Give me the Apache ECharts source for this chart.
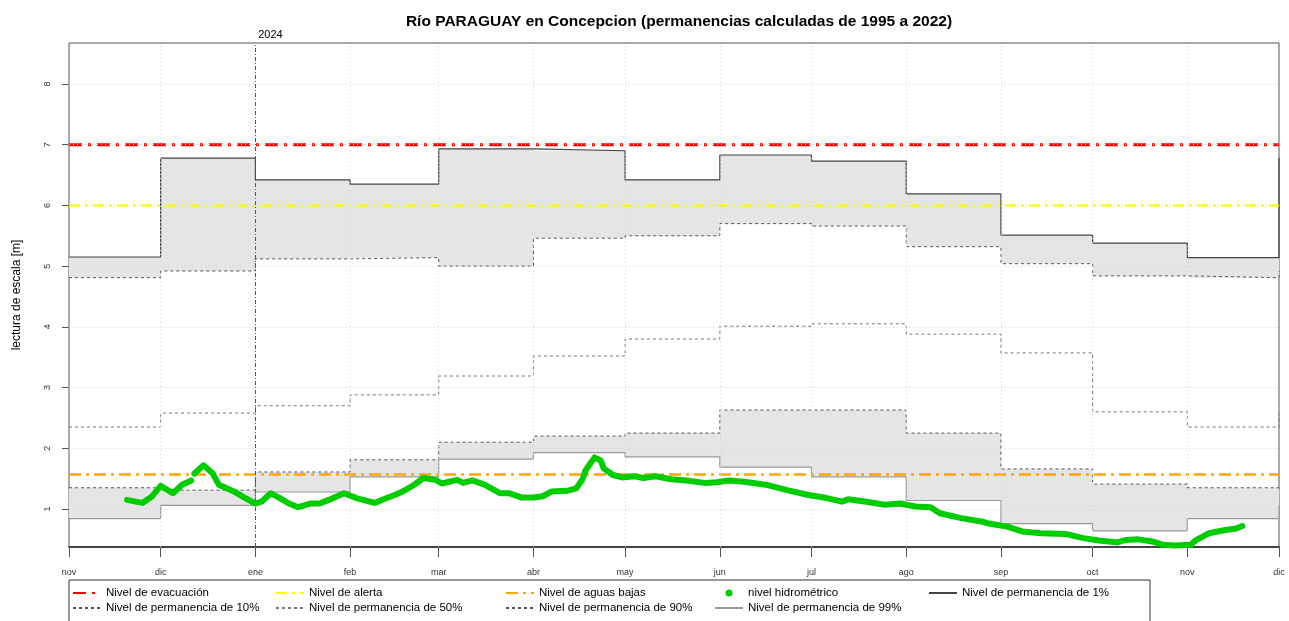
<!DOCTYPE html>
<html>
<head>
<meta charset="utf-8">
<script src="https://cdn.jsdelivr.net/npm/echarts@6/dist/echarts.min.js"></script>
<style>
  html, body { margin: 0; padding: 0; background: #fff; }
  #chart { width: 1289px; height: 621px; }
</style>
</head>
<body>
<div id="chart"></div>
<script>
// eje x: dias desde 1 nov 2023
var monthStarts = [0, 30, 61, 92, 121, 152, 182, 213, 243, 274, 305, 335, 366, 396];
var monthLabels = ['nov', 'dic', 'ene', 'feb', 'mar', 'abr', 'may', 'jun', 'jul', 'ago', 'sep', 'oct', 'nov', 'dic'];
var yTicks = [1, 2, 3, 4, 5, 6, 7, 8];
var yearStart = 61; // 1 ene 2024

// permanencias mensuales (m)
var perm1  = [5.15, 6.78, 6.42, 6.35, 6.93, 6.90, 6.42, 6.83, 6.73, 6.19, 5.51, 5.38, 5.14, 6.78];
var perm10 = [4.81, 4.92, 5.12, 5.14, 5.00, 5.46, 5.50, 5.70, 5.66, 5.32, 5.04, 4.84, 4.81, 4.92];
var perm50 = [2.35, 2.58, 2.70, 2.88, 3.19, 3.52, 3.80, 4.01, 4.05, 3.88, 3.57, 2.60, 2.35, 2.58];
var perm90 = [1.35, 1.31, 1.61, 1.81, 2.10, 2.20, 2.25, 2.63, 2.63, 2.25, 1.66, 1.41, 1.35, 1.31];
var perm99 = [0.84, 1.06, 1.28, 1.53, 1.82, 1.93, 1.86, 1.69, 1.53, 1.14, 0.76, 0.64, 0.84, 1.06];

// niveles de referencia
var nivelEvacuacion = 7;
var nivelAlerta = 6;
var nivelAguasBajas = 1.57;

// nivel hidrometrico observado
var obsDay = [19, 21, 24, 27, 30, 34, 37, 40, 40.5, 41, 44, 47, 49, 54, 57, 61, 63, 66, 69, 72, 75, 79, 82, 85, 90, 94, 100, 104, 107, 110, 113, 116,
  120, 122, 127, 129, 132, 136, 141, 144, 148, 152, 155, 158, 163, 166, 168, 169, 171, 172, 174, 175, 178, 181, 185, 188, 192, 197, 202, 208,
  212, 216, 221, 228, 235, 242, 248, 253, 255, 261, 267, 272, 277, 282, 285, 292, 299, 301, 307, 312, 318, 326, 332, 337, 343, 346, 350, 355,
  358, 362, 367, 369, 373, 378, 382, 384];
var obsLevel = [1.15, 1.13, 1.10, 1.20, 1.38, 1.26, 1.40, 1.47, null, 1.58, 1.72, 1.59, 1.40, 1.29, 1.20, 1.09, 1.12, 1.26, 1.18, 1.09, 1.03, 1.09, 1.09, 1.15, 1.26, 1.18, 1.10, 1.18, 1.24, 1.31, 1.40, 1.51,
  1.48, 1.42, 1.48, 1.43, 1.47, 1.40, 1.26, 1.26, 1.19, 1.19, 1.21, 1.29, 1.30, 1.34, 1.48, 1.63, 1.78, 1.85, 1.80, 1.67, 1.56, 1.52, 1.54, 1.51, 1.54, 1.49, 1.47, 1.43,
  1.44, 1.47, 1.45, 1.40, 1.31, 1.23, 1.18, 1.12, 1.16, 1.12, 1.07, 1.09, 1.04, 1.03, 0.93, 0.85, 0.79, 0.76, 0.71, 0.63, 0.60, 0.59, 0.52, 0.48, 0.45, 0.49, 0.50, 0.46,
  0.41, 0.40, 0.41, 0.49, 0.60, 0.65, 0.68, 0.72];

var legendCols = [
  ['Nivel de evacuación', 'Nivel de permanencia de 10%'],
  ['Nivel de alerta', 'Nivel de permanencia de 50%'],
  ['Nivel de aguas bajas', 'Nivel de permanencia de 90%'],
  ['nivel hidrométrico', 'Nivel de permanencia de 99%'],
  ['Nivel de permanencia de 1%']
];
var legendLefts = [72, 275, 505, 714, 928];

var fontFam = '"Liberation Sans", Arial, Helvetica, sans-serif';
var xMin = monthStarts[0], xMax = monthStarts[monthStarts.length - 1];

function steps (vals) {
  return monthStarts.map(function (d, i) { return [d, vals[i]]; });
}
function flat (v) {
  return [[xMin, v], [xMax, v]];
}
// bandas mensuales [inicio, fin, bajo, alto]
function band (low, high) {
  var out = [];
  for (var i = 0; i < monthStarts.length - 1; i++) {
    out.push([monthStarts[i], monthStarts[i + 1], low[i], high[i]]);
  }
  return out;
}
function renderBand (params, api) {
  var a = api.coord([api.value(0), api.value(3)]);
  var b = api.coord([api.value(1), api.value(2)]);
  return {
    type: 'rect',
    shape: { x: a[0], y: a[1], width: b[0] - a[0], height: b[1] - a[1] },
    style: { fill: '#e5e5e5' }
  };
}

var gridLines = [];
monthStarts.slice(1, -1).forEach(function (d) {
  if (d !== yearStart) gridLines.push({ xAxis: d });
});
yTicks.forEach(function (v) { gridLines.push({ yAxis: v }); });

var myChart = echarts.init(document.getElementById('chart'));

var option = {
  animation: false,
  title: {
    text: 'Río PARAGUAY en Concepcion (permanencias calculadas de 1995 a 2022)',
    left: 674,
    textAlign: 'center',
    top: 9,
    textStyle: { fontSize: 15.5, fontWeight: 'bold', color: '#000', fontFamily: fontFam }
  },
  legend: legendCols.map(function (names, i) {
    return {
      orient: 'vertical',
      left: legendLefts[i],
      top: 586,
      padding: 0,
      itemWidth: 28,
      itemHeight: 7,
      itemGap: 1,
      selectedMode: false,
      itemStyle: { opacity: 0 },
      data: names.map(function (n) {
        return n === 'nivel hidrométrico'
          ? { name: n, icon: 'circle', itemStyle: { opacity: 1, color: '#00cd00' } }
          : n;
      }),
      textStyle: { fontSize: 11.5, lineHeight: 14, color: '#000', fontFamily: fontFam }
    };
  }),
  graphic: [{
    type: 'rect',
    shape: { x: 69, y: 580, width: 1081, height: 60 },
    style: { fill: 'none', stroke: '#333', lineWidth: 1 },
    silent: true
  }],
  grid: {
    left: 69, right: 10, top: 43, bottom: 74,
    show: true, borderColor: '#555', borderWidth: 1
  },
  xAxis: {
    type: 'value',
    min: xMin,
    max: xMax,
    splitLine: { show: false },
    axisLine: { show: true, onZero: false, lineStyle: { color: '#444', width: 2 } },
    axisTick: { show: true, length: 10, customValues: monthStarts, lineStyle: { color: '#555' } },
    axisLabel: {
      customValues: monthStarts,
      margin: 21,
      fontSize: 9,
      color: '#333',
      fontFamily: fontFam,
      formatter: function (v) { return monthLabels[monthStarts.indexOf(v)]; }
    }
  },
  yAxis: {
    type: 'value',
    min: 0.374,
    max: 8.675,
    name: 'lectura de escala [m]',
    nameLocation: 'middle',
    nameGap: 46,
    nameTextStyle: { fontSize: 12, color: '#000', fontFamily: fontFam },
    splitLine: { show: false },
    axisLine: { show: false },
    axisTick: { show: true, length: 7, customValues: yTicks, lineStyle: { color: '#555' } },
    axisLabel: {
      customValues: yTicks,
      rotate: 90,
      margin: 17,
      fontSize: 9,
      color: '#333',
      fontFamily: fontFam
    }
  },
  series: [
    {
      name: 'grid',
      type: 'line',
      data: [],
      silent: true,
      z: 1,
      markLine: {
        silent: true,
        symbol: ['none', 'none'],
        label: { show: false },
        lineStyle: { color: '#d3d3d3', width: 1, type: [1, 3] },
        data: gridLines
      }
    },
    {
      name: 'banda alta',
      type: 'custom', z: 2, silent: true,
      renderItem: renderBand,
      encode: { x: [0, 1], y: [2, 3] },
      data: band(perm10, perm1)
    },
    {
      name: 'banda baja',
      type: 'custom', z: 2, silent: true,
      renderItem: renderBand,
      encode: { x: [0, 1], y: [2, 3] },
      data: band(perm99, perm90)
    },
    {
      name: 'year',
      type: 'line',
      data: [],
      silent: true,
      z: 5,
      markLine: {
        silent: true,
        symbol: ['none', 'none'],
        lineStyle: { color: '#555', width: 1, type: [4, 2, 1, 2] },
        label: {
          show: true, position: 'end', distance: 3, padding: [0, 0, 0, 30],
          formatter: '2024', fontSize: 11, color: '#000', fontFamily: fontFam
        },
        data: [{ xAxis: yearStart }]
      }
    },
    {
      name: 'Nivel de permanencia de 1%',
      type: 'line', step: 'end', symbol: 'none', z: 3,
      data: steps(perm1),
      lineStyle: { color: '#444', width: 1.2 },
      itemStyle: { color: '#444' }
    },
    {
      name: 'Nivel de permanencia de 10%',
      type: 'line', step: 'end', symbol: 'none', z: 3,
      data: steps(perm10),
      lineStyle: { color: '#555', width: 1, type: [3, 3] },
      itemStyle: { color: '#555' }
    },
    {
      name: 'Nivel de permanencia de 50%',
      type: 'line', step: 'end', symbol: 'none', z: 3,
      data: steps(perm50),
      lineStyle: { color: '#777', width: 1, type: [3, 3] },
      itemStyle: { color: '#777' }
    },
    {
      name: 'Nivel de permanencia de 90%',
      type: 'line', step: 'end', symbol: 'none', z: 3,
      data: steps(perm90),
      lineStyle: { color: '#555', width: 1, type: [3, 3] },
      itemStyle: { color: '#555' }
    },
    {
      name: 'Nivel de permanencia de 99%',
      type: 'line', step: 'end', symbol: 'none', z: 3,
      data: steps(perm99),
      lineStyle: { color: '#999', width: 1.2 },
      itemStyle: { color: '#999' }
    },
    {
      name: 'Nivel de evacuación',
      type: 'line', symbol: 'none', z: 4,
      data: flat(nivelEvacuacion),
      lineStyle: { color: '#ff0000', width: 3, type: [13, 6, 3, 6] },
      itemStyle: { color: '#ff0000' }
    },
    {
      name: 'Nivel de alerta',
      type: 'line', symbol: 'none', z: 4,
      data: flat(nivelAlerta),
      lineStyle: { color: '#ffff00', width: 2.2, type: [11, 5, 3, 5] },
      itemStyle: { color: '#ffff00' }
    },
    {
      name: 'Nivel de aguas bajas',
      type: 'line', symbol: 'none', z: 4,
      data: flat(nivelAguasBajas),
      lineStyle: { color: '#ffa500', width: 2.5, type: [12, 5, 3, 5] },
      itemStyle: { color: '#ffa500' }
    },
    {
      name: 'nivel hidrométrico',
      type: 'line', symbol: 'none', z: 6,
      connectNulls: false,
      data: obsDay.map(function (d, i) { return [d, obsLevel[i]]; }),
      lineStyle: { color: '#00cd00', width: 6, cap: 'round', join: 'round' },
      itemStyle: { color: '#00cd00' }
    }
  ]
};

myChart.setOption(option);
</script>
</body>
</html>
